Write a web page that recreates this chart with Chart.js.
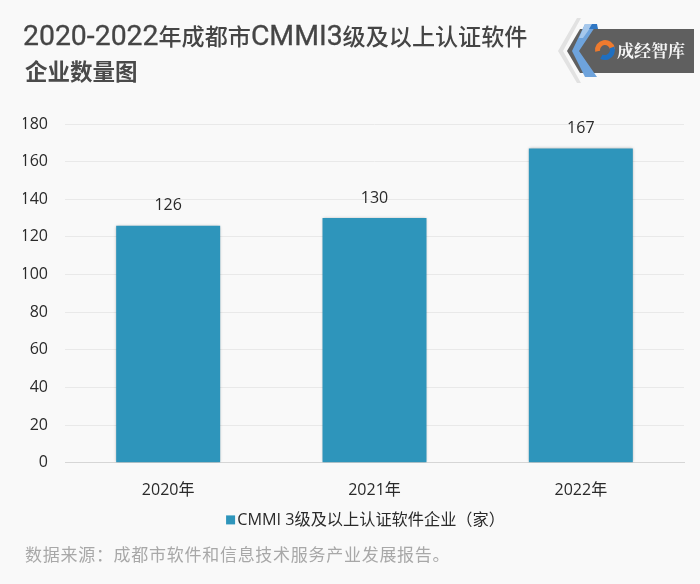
<!DOCTYPE html>
<html><head><meta charset="utf-8">
<script src="https://cdn.jsdelivr.net/npm/chart.js@4"></script>
<style>
html,body{margin:0;padding:0;background:#f9f9f9;width:700px;height:584px;overflow:hidden}
#wrap{position:relative;width:700px;height:584px}
canvas{position:absolute;left:0;top:0}
.t{position:absolute;white-space:nowrap;font-family:"Noto Sans CJK SC","Noto Sans",sans-serif}
#t1{left:23px;top:18px;font-size:23.1px;line-height:34px;font-weight:500;color:#454545}
#t1 b{font-family:Roboto,sans-serif;font-weight:400;font-size:28.4px;-webkit-text-stroke:.3px #454545}
#t2{left:25px;top:55px;font-size:22.5px;line-height:30px;font-weight:700;color:#4a4a4a}
#src{left:25px;top:541px;font-size:17px;line-height:26px;color:#a8a8a8;letter-spacing:.72px}
#logo{position:absolute;left:0;top:0}
#lt{left:617px;top:38px;font-family:"Noto Serif CJK SC","Noto Sans CJK SC",serif;font-size:17px;line-height:24px;font-weight:700;color:#f4f4f4}
</style></head>
<body><div id="wrap">
<canvas id="c" width="700" height="584"></canvas>
<div class="t" id="t1"><b>2020-2022</b>年成都市<b>CMMI3</b>级及以上认证软件</div>
<div class="t" id="t2">企业数量图</div>
<svg id="logo" width="700" height="100" viewBox="0 0 700 100">
<polygon points="577,18 581,18 563,51 581,83 577,83 558,51" fill="#e2e2e2"/>
<polygon points="580,29 694,29 694,73 580,73 567,51" fill="#5f5f5f"/>
<polygon points="585,24 597,24 579,51 597,77 585,77 572,51" fill="#6ea3dc"/>
<polygon points="585,24 593,24 583,38 579,38" fill="#a6c8ec"/>
<polygon points="592,24 597,24 598,29 589,29" fill="#2f77c4"/>
<circle cx="605" cy="50" r="7.5" fill="none" stroke="#ee7a2e" stroke-width="5" stroke-dasharray="24 24" transform="rotate(170 605 50)"/>
<circle cx="605" cy="50" r="7.5" fill="none" stroke="#1f6fc0" stroke-width="5" stroke-dasharray="18 30" transform="rotate(-20 605 50)"/>
</svg>
<div class="t" id="lt">成经智库</div>
<div class="t" id="src">数据来源：成都市软件和信息技术服务产业发展报告。</div>
</div>
<script>
const categories = ["2020年", "2021年", "2022年"];
const seriesName = "CMMI 3级及以上认证软件企业（家）";
const seriesValues = [126, 130, 167];
const tickMax = 180;
const tickStep = 20;
const barColor = '#2e95bb';
const FONT = '"Open Sans","Noto Sans CJK SC",sans-serif';

const barShadow = {
  id: 'barShadow',
  beforeDatasetDraw(chart) {
    const {ctx} = chart;
    ctx.save();
    ctx.shadowColor = 'rgba(0,0,0,0.35)';
    ctx.shadowBlur = 3;
  },
  afterDatasetDraw(chart) { chart.ctx.restore(); }
};

const valueLabels = {
  id: 'valueLabels',
  afterDatasetsDraw(chart) {
    const {ctx} = chart;
    const meta = chart.getDatasetMeta(0);
    ctx.save();
    ctx.font = '16px ' + FONT;
    ctx.fillStyle = '#2a2a2a';
    ctx.textAlign = 'center';
    ctx.textBaseline = 'middle';
    meta.data.forEach((bar, i) => ctx.fillText(seriesValues[i], bar.x, bar.y - 20));
    ctx.restore();
  }
};

const legendSwatch = {
  id: 'legendSwatch',
  afterDraw(chart) {
    const hit = chart.legend.legendHitBoxes[0];
    const {ctx} = chart;
    ctx.save();
    ctx.fillStyle = barColor;
    ctx.fillRect(hit.left + 8, hit.top + hit.height / 2 - 4.5, 9, 9);
    ctx.restore();
  }
};

new Chart(document.getElementById('c'), {
  type: 'bar',
  data: {
    labels: categories,
    datasets: [{
      label: seriesName,
      data: seriesValues,
      backgroundColor: barColor,
      barPercentage: 0.504,
      categoryPercentage: 1
    }]
  },
  plugins: [barShadow, valueLabels, legendSwatch],
  options: {
    responsive: false,
    animation: false,
    devicePixelRatio: 1,
    layout: {padding: {left: 23, right: 0, top: 124, bottom: 46}},
    plugins: {
      legend: {
        position: 'bottom',
        labels: {
          boxWidth: 11, boxHeight: 10, padding: 5, color: '#2a2a2a',
          font: {family: FONT, size: 16.2},
          generateLabels(chart) {
            return Chart.defaults.plugins.legend.labels.generateLabels(chart)
              .map(l => ({...l, fillStyle: 'rgba(0,0,0,0)', strokeStyle: 'rgba(0,0,0,0)', lineWidth: 0}));
          }
        }
      },
      tooltip: {enabled: false}
    },
    scales: {
      x: {
        grid: {display: false, drawTicks: false},
        border: {color: '#d6d6d6'},
        ticks: {color: '#2a2a2a', font: {family: FONT, size: 16}, padding: 18, maxRotation: 0},
        afterFit(s) { s.height = 44; }
      },
      y: {
        min: 0, max: tickMax,
        grid: {color: '#e9e9e9', drawTicks: false},
        border: {display: false},
        ticks: {stepSize: tickStep, color: '#2a2a2a', font: {family: FONT, size: 16}, padding: 17},
        afterFit(s) { s.width = 42; }
      },
      pad: {
        position: 'right', display: true, min: 0, max: 1,
        grid: {display: false, drawTicks: false},
        border: {display: false},
        ticks: {display: false},
        afterFit(s) { s.width = 16; }
      }
    }
  }
});
</script></body></html>
